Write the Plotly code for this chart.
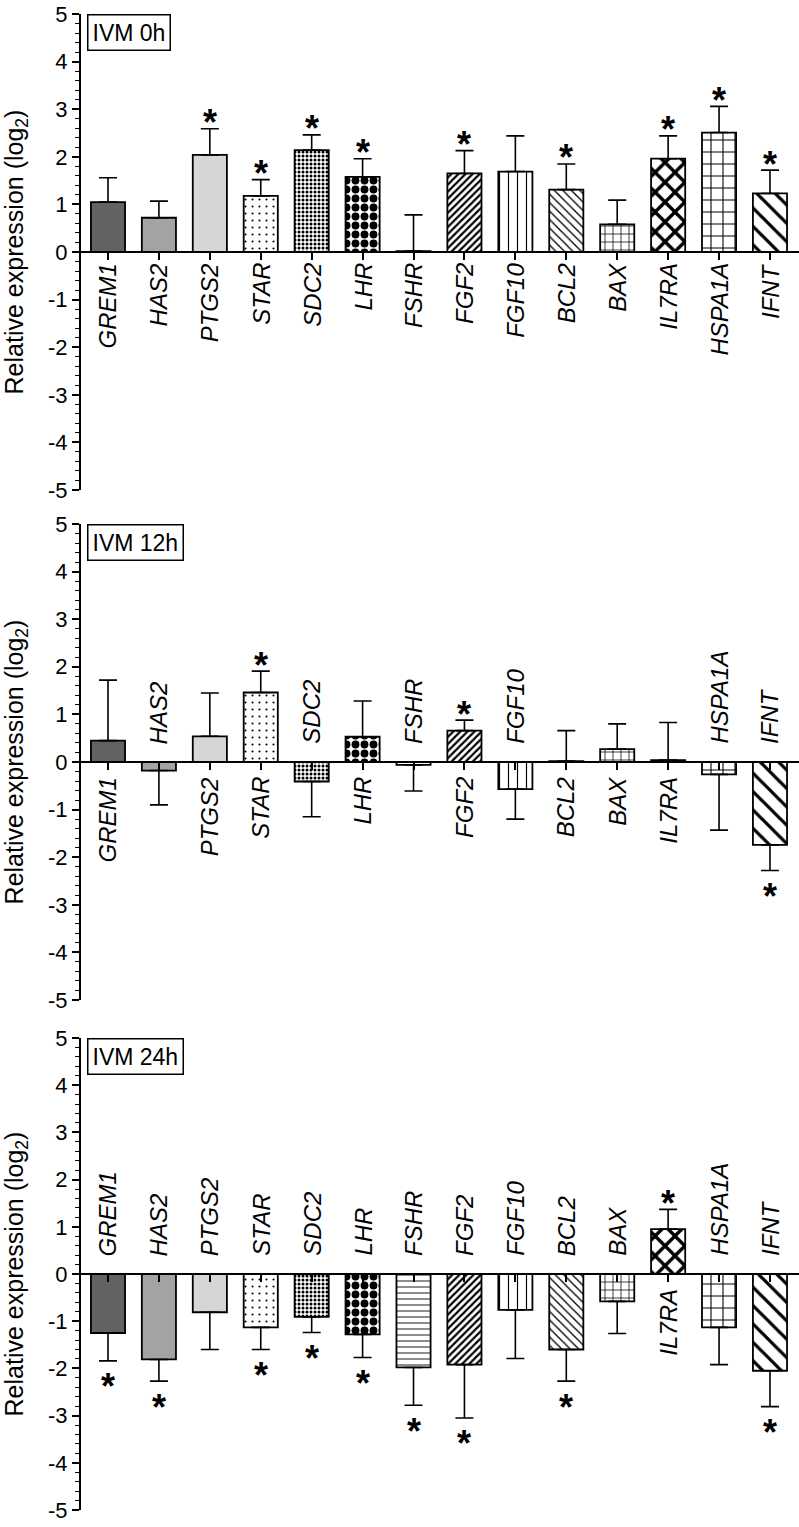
import plotly.graph_objects as go

genes = ["GREM1", "HAS2", "PTGS2", "STAR", "SDC2", "LHR", "FSHR", "FGF2",
         "FGF10", "BCL2", "BAX", "IL7RA", "HSPA1A", "IFNT"]

panel_titles = ["IVM 0h", "IVM 12h", "IVM 24h"]

vals_0h = [1.05, 0.72, 2.04, 1.18, 2.14, 1.58, 0.02, 1.65, 1.69, 1.31, 0.58, 1.96, 2.51, 1.23]
err_0h = [0.51, 0.35, 0.55, 0.34, 0.32, 0.38, 0.76, 0.48, 0.75, 0.54, 0.51, 0.48, 0.55, 0.49]
sig_0h = [0, 0, 1, 1, 1, 1, 0, 1, 0, 1, 0, 1, 1, 1]

vals_12h = [0.45, -0.18, 0.54, 1.46, -0.41, 0.53, -0.06, 0.66, -0.57, 0.02, 0.27, 0.04, -0.26, -1.74]
err_12h = [1.27, 0.72, 0.91, 0.45, 0.74, 0.75, 0.55, 0.22, 0.63, 0.64, 0.53, 0.79, 1.17, 0.54]
sig_12h = [0, 0, 0, 1, 0, 0, 0, 1, 0, 0, 0, 0, 0, 1]

vals_24h = [-1.25, -1.81, -0.81, -1.13, -0.91, -1.28, -1.98, -1.92, -0.76, -1.60, -0.58, 0.95, -1.13, -2.05]
err_24h = [0.59, 0.46, 0.79, 0.47, 0.33, 0.49, 0.80, 1.13, 1.03, 0.67, 0.68, 0.42, 0.79, 0.76]
sig_24h = [1, 1, 0, 1, 1, 1, 1, 1, 0, 1, 0, 1, 0, 1]

y_ticks = [-5, -4, -3, -2, -1, 0, 1, 2, 3, 4, 5]

panels = [(vals_0h, err_0h, sig_0h), (vals_12h, err_12h, sig_12h), (vals_24h, err_24h, sig_24h)]

# styling (per gene)
fill_colors = ["#626262", "#a3a3a3", "#d6d6d6"] + ["white"] * 11
pat_shapes = ["", "", "", ".", ".", ".", "-", "/", "|", "\\", "+", "x", "+", "\\"]
pat_sizes = [8, 8, 8, 7, 4, 9, 6, 5, 9, 6, 8, 14, 12, 13]
pat_solid = [0.3, 0.3, 0.3, 0.07, 0.45, 0.6, 0.15, 0.45, 0.13, 0.22, 0.18, 0.42, 0.17, 0.25]

FONT = "Liberation Sans, Arial, sans-serif"
domains = [[0.6818, 1.0], [0.3409, 0.6591], [0.0, 0.3155]]

fig = go.Figure()
annotations = []

for p, (vals, errs, sig) in enumerate(panels):
    n = "" if p == 0 else str(p + 1)
    for i, (g, v, e) in enumerate(zip(genes, vals, errs)):
        marker = dict(color=fill_colors[i], line=dict(color="black", width=1.8))
        if pat_shapes[i]:
            marker["pattern"] = dict(shape=pat_shapes[i], size=pat_sizes[i],
                                     solidity=pat_solid[i], fgcolor="black",
                                     bgcolor="white", fillmode="replace")
        fig.add_trace(go.Bar(
            x=[i], y=[v], width=0.67,
            xaxis="x" + n, yaxis="y" + n,
            marker=marker,
            error_y=dict(type="data", symmetric=False,
                         array=[e if v >= 0 else 0], arrayminus=[e if v < 0 else 0],
                         color="black", thickness=1.6, width=9),
            showlegend=False, name=g,
        ))
    d = domains[p]
    mid = (d[0] + d[1]) / 2
    fig.layout["xaxis" + n] = dict(
        domain=[0, 1], range=[-0.53, 13.57], anchor="free", position=mid,
        showline=True, linecolor="black", linewidth=2,
        ticks="outside", ticklen=7, tickwidth=1.5, tickcolor="black",
        tickvals=list(range(len(genes))), showticklabels=False,
        showgrid=False, zeroline=False,
    )
    fig.layout["yaxis" + n] = dict(
        domain=d, range=[-5, 5], anchor="x" + n,
        showline=True, linecolor="black", linewidth=2,
        ticks="outside", ticklen=7, tickwidth=1.5, tickcolor="black",
        tickvals=y_ticks, ticktext=[str(t) for t in y_ticks],
        ticklabeloverflow="allow",
        showgrid=False, zeroline=False,
        tickfont=dict(family=FONT, size=22, color="black"),
        minor=dict(dtick=0.2, tick0=0, ticks="outside", ticklen=4, tickwidth=1.2,
                   tickcolor="black"),
        title=dict(text="Relative expression (log<sub>2</sub>)",
                   font=dict(family=FONT, size=25, color="black"), standoff=22),
    )
    annotations.append(dict(
        text=panel_titles[p], xref="x%s domain" % n, yref="y%s domain" % n,
        x=0.008, y=1.0, xanchor="left", yanchor="top", showarrow=False,
        font=dict(family=FONT, size=23, color="black"),
        bordercolor="black", borderwidth=1.5, borderpad=4, bgcolor="white",
    ))
    for i, (g, v, e, s) in enumerate(zip(genes, vals, errs, sig)):
        below = v >= 0
        annotations.append(dict(
            text="<i>%s</i>" % g, xref="x" + n, yref="y" + n, x=i, y=0,
            textangle=-90, showarrow=False,
            yanchor="top" if below else "bottom",
            yshift=(-9 if p == 0 else -13) if below else 16,
            font=dict(family=FONT, size=24, color="black"),
        ))
        if s:
            end = v + e if v >= 0 else v - e
            annotations.append(dict(
                text="<b>*</b>", xref="x" + n, yref="y" + n, x=i, y=end,
                showarrow=False, yanchor="middle",
                yshift=6 if v >= 0 else -26,
                font=dict(family=FONT, size=36, color="black"),
            ))

fig.update_layout(
    width=799, height=1527,
    margin=dict(l=81, r=0, t=14, b=17),
    plot_bgcolor="white", paper_bgcolor="white",
    annotations=annotations, barmode="overlay",
)

# remove the default 8px page margin so the figure fills the window exactly
fig.write_html("out.html", config={"displayModeBar": False},
               post_script="document.body.style.margin='0';")
